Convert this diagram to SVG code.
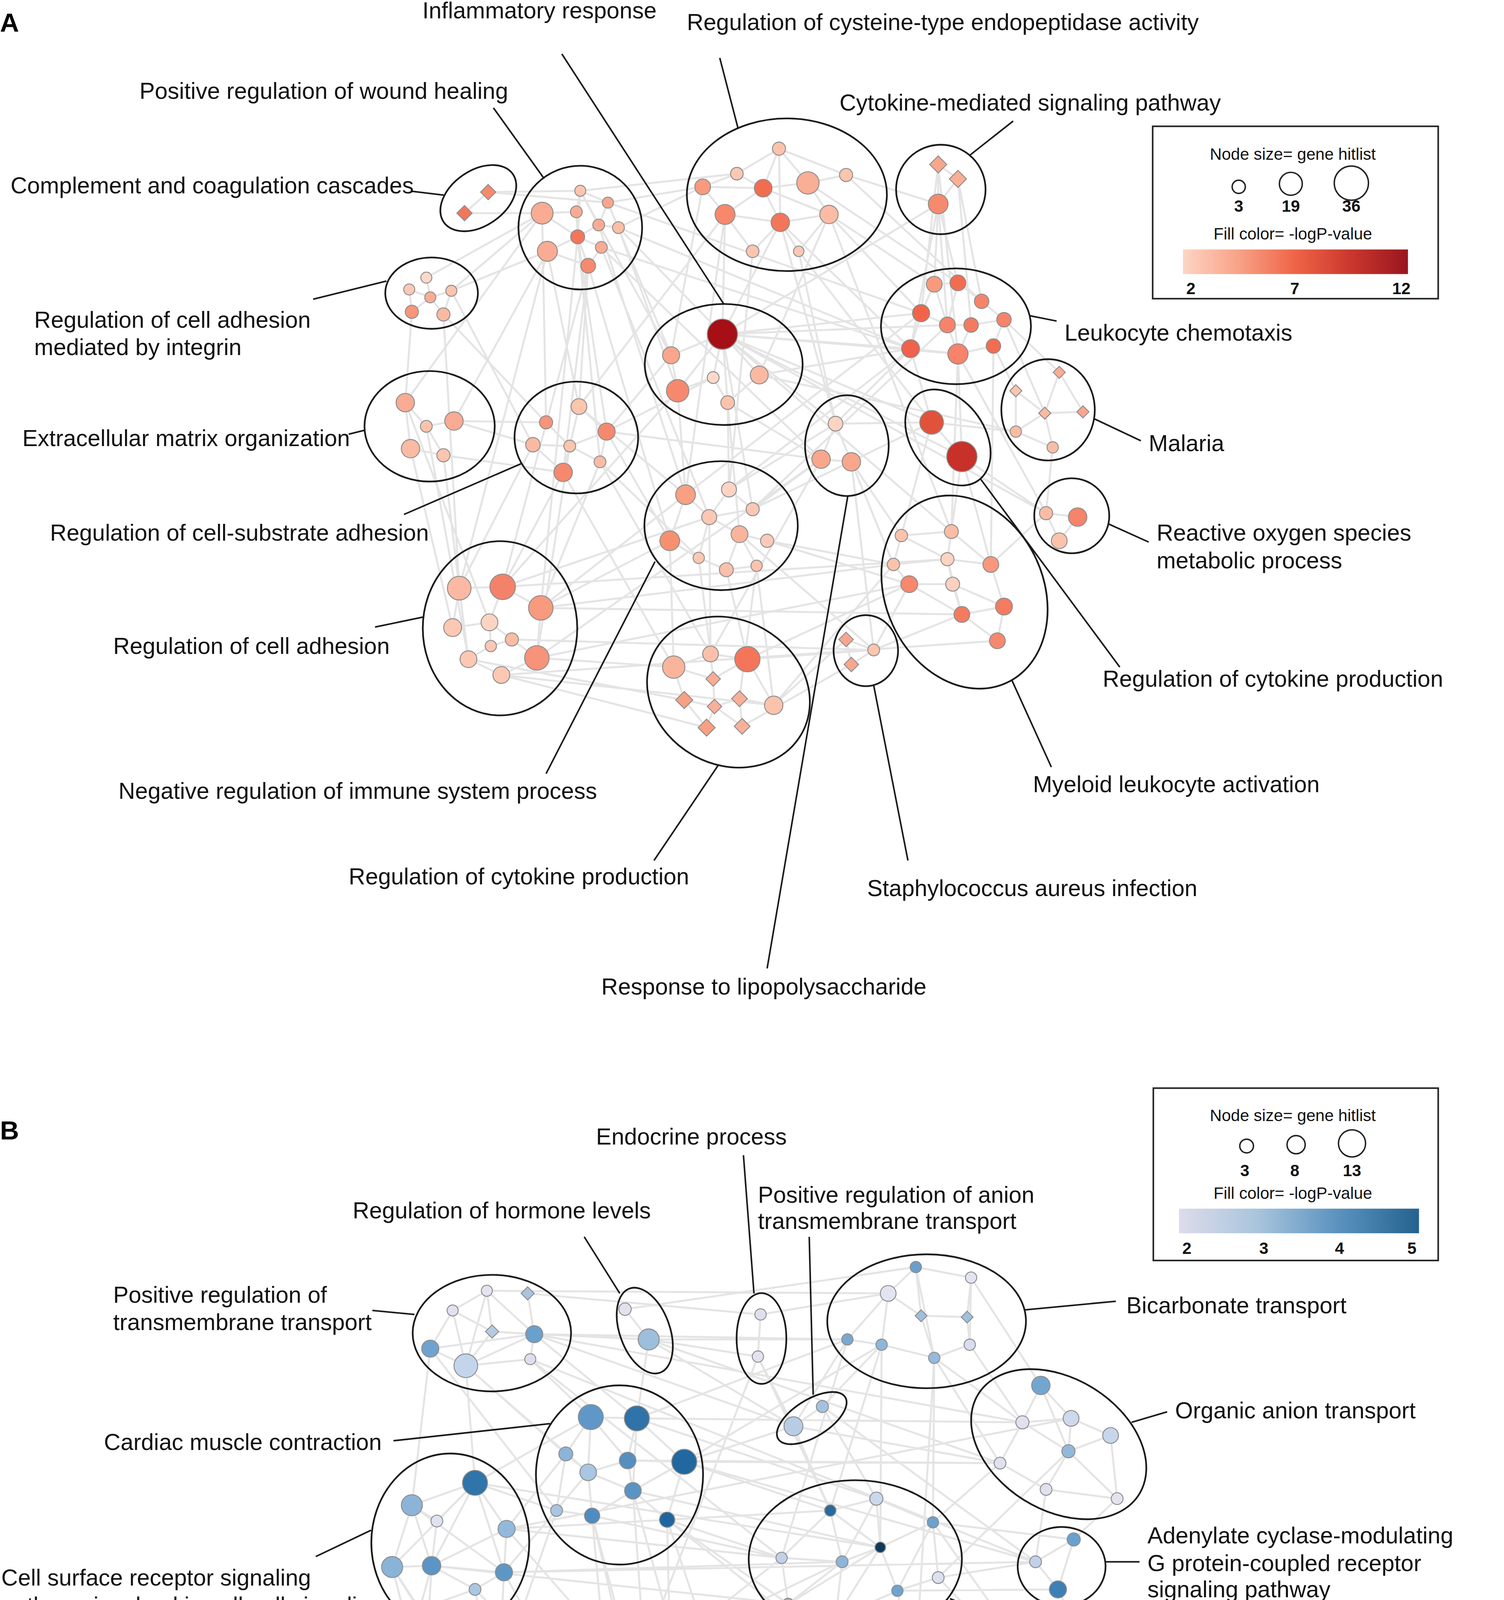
<svg xmlns="http://www.w3.org/2000/svg" width="3850" height="5279" viewBox="0 0 3850 5279">
<defs>
<style>
.e{fill:none;stroke:#1a1a1a;stroke-width:1.3}
.n{stroke:#8c8c8c;stroke-width:0.7}
.ld{fill:none;stroke:#1a1a1a;stroke-width:1.2}
.ed{fill:none;stroke:#c4c4c4;stroke-opacity:0.45;stroke-width:1.5}
.t{font-family:"Liberation Sans",Arial,sans-serif;font-size:17.5px;fill:#111}
.lg{font-family:"Liberation Sans",Arial,sans-serif;font-size:12.5px;fill:#111}
.b{font-weight:bold}
.pl{font-family:"Liberation Sans",Arial,sans-serif;font-size:20px;font-weight:bold;fill:#000}
.lc{fill:none;stroke:#222;stroke-width:1.1}
</style>
<linearGradient id="gr" x1="0" y1="0" x2="1" y2="0">
<stop offset="0" stop-color="#fdd5c4"/><stop offset="0.25" stop-color="#f8a186"/><stop offset="0.5" stop-color="#ef6447"/><stop offset="0.75" stop-color="#c9372d"/><stop offset="1" stop-color="#99161f"/>
</linearGradient>
<linearGradient id="gb" x1="0" y1="0" x2="1" y2="0">
<stop offset="0" stop-color="#dddceb"/><stop offset="0.33" stop-color="#a8c4dd"/><stop offset="0.66" stop-color="#5b93bf"/><stop offset="1" stop-color="#24628f"/>
</linearGradient>
</defs>
<rect x="0" y="0" width="3850" height="5279" fill="#ffffff"/>
<g transform="scale(3.36833)">
<g id="connectors">
<path class="ed" d="M441 145L438 161M441 145L439 180M441 145L462 154M438 161L439 180M412 162L439 180M455 171L439 180M439 180L457 188M439 180L447 202M416 191L439 180M462 154L455 171M470 173L455 171M457 188L447 202M412 162L438 161M441 145L455 171M416 191L447 202M416 191L440 309M447 202L440 309M439 180L461 328M412 162L415 321M416 191L349 447M447 202L382 446M439 180L411 462M441 145L510 270M462 154L510 270M470 173L549 254M470 173L534 142M462 154L534 142M455 171L521 376M457 188L539 393M412 162L308 306M416 191L345 320M447 202L428 359M439 180L456 351M462 154L700 238M470 173L692 265M457 188L692 265M441 145L560 132M412 162L343 221M416 191L343 221M470 173L515 297M457 188L624 349M447 202L509 411M371 146L353 162M353 162L412 162M371 146L441 145M371 146L462 154M324 211L327 226M311 220L327 226M343 221L327 226M313 237L327 226M337 239L327 226M311 220L313 237M343 221L337 239M324 211L412 162M313 237L308 306M337 239L415 321M337 239L349 447M343 221L405 338M308 306L324 324M345 320L324 324M324 324L337 346M312 341L337 346M308 306L312 341M345 320L405 338M345 320L415 321M337 346L349 447M312 341L344 477M308 306L372 473M324 324L356 501M337 346L428 359M440 309L433 339M415 321L433 339M461 328L433 339M405 338L433 339M433 339L456 351M433 339L428 359M440 309L461 328M405 338L428 359M461 328L456 351M428 359L382 446M456 351L411 462M405 338L349 447M433 339L408 500M461 328L509 411M456 351L531 424M440 309L521 376M461 328L510 270M428 359L512 507M456 351L540 497M461 328L624 349M349 447L382 446M382 446L411 462M349 447L344 477M344 477L372 473M372 473L389 486M389 486L373 491M373 491L356 501M356 501L381 513M408 500L381 513M411 462L408 500M382 446L372 473M372 473L373 491M389 486L408 500M349 447L356 501M411 462L509 411M408 500L512 507M411 462L679 429M382 446L539 393M408 500L691 444M381 513L588 536M356 501L520 532M389 486L664 494M411 462L521 376M408 500L624 349M381 513L537 553M382 446L515 297M411 462L731 467M382 446L720 425M381 513L758 487M549 254L510 270M549 254L542 287M549 254L577 285M549 254L515 297M549 254L553 306M510 270L515 297M542 287L553 306M577 285L553 306M542 287L515 297M549 254L700 238M549 254L720 247M549 254L692 265M549 254L728 269M549 254L551 163M549 254L593 169M549 254L708 321M549 254L731 347M549 254L635 322M577 285L692 265M510 270L534 142M577 285L630 163M553 306L554 372M515 297L521 376M553 306L562 406M549 254L723 404M549 254L713 155M577 285L772 328M553 306L624 349M549 254L795 390M542 287L461 328M549 254L572 387M592 113L560 132M592 113L580 143M592 113L614 139M592 113L643 133M560 132L534 142M560 132L580 143M534 142L580 143M534 142L551 163M580 143L593 169M580 143L614 139M614 139L643 133M614 139L630 163M551 163L593 169M593 169L630 163M551 163L572 191M593 169L572 191M593 169L607 191M630 163L607 191M580 143L551 163M580 143L630 163M592 113L593 169M630 163L700 238M630 163L710 216M643 133L713 155M614 139L728 215M593 169L635 322M607 191L635 322M572 191L554 372M630 163L723 404M607 191L708 321M551 163L521 376M643 133L746 229M593 169L692 265M551 163L440 309M713 125L713 155M728 136L713 155M713 125L728 136M713 155L710 216M713 155L728 215M713 125L700 238M728 136L746 229M713 155L720 247M728 136L738 247M713 125L728 269M713 155L692 265M710 216L728 215M710 216L700 238M728 215L746 229M700 238L720 247M720 247L738 247M738 247L763 243M700 238L692 265M720 247L728 269M738 247L728 269M692 265L728 269M728 269L755 263M763 243L755 263M746 229L763 243M728 215L720 247M710 216L720 247M692 265L708 321M728 269L731 347M755 263L772 297M763 243L805 283M692 265L635 322M728 269L723 404M755 263L753 429M692 265L554 372M720 247L572 387M728 269L795 390M700 238L521 376M763 243L794 314M805 283L794 314M772 297L794 314M794 314L823 313M772 297L772 328M794 314L800 340M805 283L823 313M772 328L800 340M794 314L772 328M800 340L795 390M772 328L708 321M635 322L624 349M635 322L647 351M624 349L647 351M624 349L572 387M647 351L685 407M635 322L554 372M647 351L679 429M624 349L540 497M647 351L664 494M635 322L708 321M708 321L731 347M731 347L723 404M731 347L795 390M708 321L685 407M731 347L753 429M708 321L572 387M795 390L819 393M795 390L805 411M819 393L805 411M795 390L753 429M521 376L539 393M554 372L539 393M539 393L572 387M521 376L509 411M539 393L562 406M509 411L531 424M562 406L552 433M562 406L583 411M531 424L552 433M552 433L575 430M562 406L575 430M539 393L531 424M554 372L572 387M509 411L512 507M552 433L568 501M531 424L540 497M575 430L562 531M583 411L679 429M583 411L691 444M562 406L664 494M539 393L540 497M575 430L588 536M685 407L723 404M685 407L679 429M723 404L720 425M679 429L720 425M720 425L753 429M679 429L691 444M720 425L724 444M753 429L763 461M691 444L724 444M724 444L731 467M763 461L731 467M763 461L758 487M731 467L758 487M685 407L720 425M723 404L753 429M720 425L731 467M691 444L731 467M724 444L763 461M691 444L664 494M731 467L664 494M679 429L588 536M691 444L568 501M512 507L540 497M540 497L568 501M512 507L542 516M540 497L542 516M568 501L542 516M542 516L543 537M520 532L543 537M562 531L543 537M543 537L537 553M543 537L564 552M520 532L537 553M562 531L564 552M568 501L588 536M588 536L562 531M512 507L520 532M588 536L643 486M568 501L664 494M564 552L647 505M643 486L647 505M643 486L664 494M647 505L664 494"/>
<path class="ed" d="M370 981L344 996M370 981L374 1012M370 981L354 1038M344 996L327 1025M344 996L354 1038M374 1012L406 1014M374 1012L354 1038M406 1014L403 1033M327 1025L354 1038M354 1038L403 1033M401 983L406 1014M370 981L406 1014M327 1025L406 1014M344 996L374 1012M354 1038L406 1014M354 1038L430 1105M403 1033L449 1077M406 1014L484 1078M327 1025L313 1144M354 1038L361 1127M406 1014L493 1018M403 1033L594 1184M406 1014L644 1018M370 981L675 983M401 983L578 999M406 1014L777 1081M403 1033L787 1187M354 1038L447 1119M327 1025L423 1148M406 1014L603 1084M475 995L493 1018M493 1018L576 1031M493 1018L644 1018M493 1018L484 1078M475 995L696 963M493 1018L603 1084M493 1018L760 1112M578 999L576 1031M576 1031L603 1084M576 1031L631 1148M578 999L675 983M576 1031L482 1273M603 1084L625 1069M603 1084L631 1148M625 1069L670 1022M603 1084L520 1111M625 1069L666 1139M603 1084L760 1112M625 1069L787 1187M696 963L675 983M696 963L700 1000M696 963L738 971M675 983L670 1022M675 983L700 1000M700 1000L710 1032M700 1000L735 1001M735 1001L737 1022M738 971L737 1022M644 1018L670 1022M670 1022L710 1032M737 1022L710 1032M738 971L735 1001M696 963L710 1032M675 983L644 1018M670 1022L631 1148M670 1022L669 1176M710 1032L709 1157M644 1018L594 1184M737 1022L777 1081M710 1032L760 1112M738 971L791 1053M644 1018L603 1084M670 1022L520 1111M710 1032L695 1280M791 1053L777 1081M791 1053L814 1078M791 1053L812 1103M777 1081L814 1078M777 1081L760 1112M814 1078L844 1091M814 1078L812 1103M812 1103L795 1132M844 1091L849 1139M812 1103L849 1139M760 1112L795 1132M795 1132L849 1139M777 1081L812 1103M844 1091L812 1103M777 1081L484 1078M760 1112L520 1111M814 1078L385 1162M760 1112L709 1157M795 1132L787 1187M849 1139L816 1170M812 1103L713 1199M760 1112L477 1110M777 1081L710 1032M631 1148L666 1139M631 1148L669 1176M666 1139L669 1176M709 1157L669 1176M669 1176L640 1187M669 1176L682 1209M594 1184L640 1187M640 1187L599 1219M640 1187L635 1230M682 1209L635 1230M713 1199L682 1209M709 1157L713 1199M594 1184L599 1219M599 1219L635 1230M631 1148L594 1184M666 1139L709 1157M631 1148L640 1187M669 1176L635 1230M669 1176L599 1219M709 1157L682 1209M666 1139L640 1187M631 1148L520 1111M594 1184L507 1155M669 1176L481 1133M640 1187L383 1195M599 1219L541 1257M635 1230L530 1312M682 1209L695 1280M635 1230L637 1316M713 1199L787 1187M709 1157L816 1170M682 1209L804 1208M594 1184L385 1162M669 1176L361 1127M666 1139L484 1078M599 1219L618 1372M635 1230L673 1286M713 1199L811 1301M640 1187L381 1311M599 1219L328 1190M631 1148L385 1162M816 1170L787 1187M816 1170L804 1208M787 1187L804 1208M804 1208L842 1285M787 1187L520 1111M787 1187L383 1195M449 1077L484 1078M449 1077L430 1105M449 1077L477 1110M449 1077L447 1119M484 1078L477 1110M484 1078L520 1111M430 1105L447 1119M477 1110L447 1119M477 1110L481 1133M477 1110L520 1111M520 1111L481 1133M520 1111L507 1155M447 1119L450 1152M481 1133L450 1152M481 1133L507 1155M423 1148L450 1152M430 1105L423 1148M447 1119L481 1133M484 1078L481 1133M423 1148L361 1127M430 1105L385 1162M450 1152L482 1273M507 1155L510 1287M481 1133L530 1312M450 1152L471 1242M507 1155L541 1257M423 1148L379 1276M450 1152L462 1286M507 1155L673 1286M481 1133L495 1333M449 1077L361 1127M447 1119L383 1195M507 1155L599 1219M450 1152L594 1184M484 1078L644 1018M361 1127L313 1144M361 1127L332 1156M361 1127L385 1162M361 1127L328 1190M361 1127L383 1195M313 1144L332 1156M313 1144L298 1191M313 1144L328 1190M332 1156L328 1190M385 1162L383 1195M298 1191L328 1190M328 1190L383 1195M328 1190L361 1208M383 1195L361 1208M298 1191L319 1223M328 1190L319 1223M361 1208L319 1223M361 1127L298 1191M385 1162L328 1190M313 1144L383 1195M298 1191L342 1261M328 1190L322 1293M383 1195L379 1276M361 1208L381 1311M319 1223L330 1313M383 1195L432 1284M385 1162L482 1273M361 1208L467 1313M319 1223L398 1412M298 1191L330 1313M342 1261L379 1276M342 1261L322 1293M342 1261L348 1292M379 1276L348 1292M379 1276L381 1311M322 1293L330 1313M322 1293L348 1292M348 1292L381 1311M330 1313L381 1311M330 1313L357 1330M381 1311L357 1330M342 1261L381 1311M379 1276L330 1313M322 1293L381 1311M379 1276L432 1284M381 1311L467 1313M357 1330L398 1412M330 1313L433 1436M381 1311L461 1339M357 1330L509 1427M471 1242L482 1273M471 1242L462 1286M482 1273L462 1286M482 1273L510 1287M482 1273L530 1312M432 1284L462 1286M432 1284L467 1313M462 1286L467 1313M510 1287L530 1312M510 1287L495 1333M467 1313L461 1339M467 1313L495 1333M530 1312L495 1333M541 1257L510 1287M541 1257L530 1312M432 1284L461 1339M482 1273L467 1313M471 1242L510 1287M495 1333L524 1413M461 1339L420 1403M467 1313L433 1436M530 1312L637 1316M541 1257L673 1286M510 1287L654 1346M495 1333L618 1372M461 1339L525 1443M495 1333L433 1436M482 1273L594 1184M673 1286L695 1280M673 1286L637 1316M673 1286L672 1318M695 1280L735 1303M695 1280L672 1318M695 1280L696 1325M735 1303L696 1325M735 1303L727 1332M637 1316L672 1318M637 1316L654 1346M672 1318L696 1325M672 1318L654 1346M696 1325L727 1332M696 1325L692 1361M654 1346L692 1361M727 1332L692 1361M695 1280L692 1361M673 1286L696 1325M735 1303L757 1374M727 1332L757 1374M692 1361L753 1419M692 1361L618 1372M654 1346L618 1372M637 1316L587 1410M727 1332L811 1301M692 1361L795 1413M696 1325L806 1369M811 1301L842 1285M811 1301L709 1157M757 1374L806 1369M757 1374L753 1419M757 1374L795 1413M806 1369L753 1419M806 1369L795 1413M753 1419L795 1413M618 1372L587 1410M618 1372L634 1404M618 1372L610 1442M587 1410L634 1404M587 1410L610 1442M634 1404L610 1442M587 1410L524 1413M524 1413L509 1427M524 1413L525 1443M509 1427L525 1443M398 1412L433 1436M398 1412L420 1403M420 1403L433 1436M433 1436L509 1427"/>
<g id="leaders-a">
<path class="ld" d="M427 41L550 231M547 44L561 98M375 82L413 135M770 92L737 118M312.6 145.3L337.2 148.3M238 227.4L293.7 213.6M783 240L803 244M265 330L277 327M831 318L867 335M307 391L397 352M842 398L873 412M285 476.6L321.4 469M745 363.8L851 507M497.8 426.8L415 588M546.1 581.2L497 654M769 517L799 583M664 521L690 654M644.3 377L583 736"/>
</g>
<g id="leaders-b">
<path class="ld" d="M565 878L573 983M444 940L471 983M615 940L618 1060M283 996L315 999M779 995.5L848 989M860 1081L887 1073M299 1095L418 1082M840 1187L866 1187M240 1183L282 1163M722 1215L800 1246M286 1305L307 1305M845 1305L884 1323M823 1387L866 1396M431 1330L342 1383M341 1459L387 1446M700.5 1376L718 1443M626.6 1450L657 1508M520 1468L519 1535"/>
</g>
</g>

<text class="pl" x="0" y="24">A</text>
<text class="pl" x="0" y="866">B</text>

<g id="legend-a">
<rect x="876" y="96" width="217" height="131" fill="#fff" stroke="#222" stroke-width="1.2"/>
<text class="lg" x="982.5" y="121.5" text-anchor="middle">Node size= gene hitlist</text>
<circle class="lc" cx="941.4" cy="142" r="5"/><circle class="lc" cx="981" cy="139.7" r="8.7"/><circle class="lc" cx="1027" cy="139.2" r="13"/>
<text class="lg b" x="941.4" y="161" text-anchor="middle">3</text><text class="lg b" x="981" y="161" text-anchor="middle">19</text><text class="lg b" x="1027" y="161" text-anchor="middle">36</text>
<text class="lg" x="982.5" y="182" text-anchor="middle">Fill color= -logP-value</text>
<rect x="899" y="189.6" width="171" height="18.7" fill="url(#gr)"/>
<text class="lg b" x="905" y="223.5" text-anchor="middle">2</text><text class="lg b" x="984" y="223.5" text-anchor="middle">7</text><text class="lg b" x="1065" y="223.5" text-anchor="middle">12</text>
</g>

<g id="legend-b">
<rect x="876.5" y="827" width="216.5" height="131" fill="#fff" stroke="#222" stroke-width="1.2"/>
<text class="lg" x="982.5" y="852" text-anchor="middle">Node size= gene hitlist</text>
<circle class="lc" cx="947.4" cy="871" r="5.2"/><circle class="lc" cx="985" cy="870" r="6.9"/><circle class="lc" cx="1027.5" cy="869" r="10.3"/>
<text class="lg b" x="946" y="894" text-anchor="middle">3</text><text class="lg b" x="984" y="894" text-anchor="middle">8</text><text class="lg b" x="1027.5" y="894" text-anchor="middle">13</text>
<text class="lg" x="982.5" y="911" text-anchor="middle">Fill color= -logP-value</text>
<rect x="896" y="918.6" width="182.4" height="18.7" fill="url(#gb)"/>
<text class="lg b" x="902" y="953" text-anchor="middle">2</text><text class="lg b" x="960.5" y="953" text-anchor="middle">3</text><text class="lg b" x="1018" y="953" text-anchor="middle">4</text><text class="lg b" x="1073" y="953" text-anchor="middle">5</text>
</g>

<!-- Panel A clusters -->
<g id="a-inflammatory">
<ellipse class="e" cx="550" cy="277" rx="60" ry="46"/>
<circle class="n" cx="549" cy="254" r="11.5" fill="#a50f15"/><circle class="n" cx="510" cy="270" r="6.5" fill="#f9a68c"/><circle class="n" cx="542" cy="287" r="4.5" fill="#fdd9c9"/><circle class="n" cx="577" cy="285" r="6.8" fill="#fbb9a2"/><circle class="n" cx="515" cy="297" r="8.5" fill="#f6896d"/><circle class="n" cx="553" cy="306" r="5.2" fill="#fcc3ac"/>
<text class="t" x="321" y="14">Inflammatory response</text>
</g>
<g id="a-cysteine">
<ellipse class="e" cx="598" cy="148" rx="76" ry="58"/>
<circle class="n" cx="592" cy="113" r="5" fill="#fcc3ac"/><circle class="n" cx="560" cy="132" r="4.8" fill="#fcc8b3"/><circle class="n" cx="534" cy="142" r="6" fill="#f89a7e"/><circle class="n" cx="580" cy="143" r="6.7" fill="#f26d50"/><circle class="n" cx="614" cy="139" r="8.5" fill="#f9ae96"/><circle class="n" cx="643" cy="133" r="5" fill="#fcc5ae"/><circle class="n" cx="551" cy="163" r="7.6" fill="#f7886c"/><circle class="n" cx="593" cy="169" r="7" fill="#f3765a"/><circle class="n" cx="630" cy="163" r="7" fill="#fbbba4"/><circle class="n" cx="572" cy="191" r="4.8" fill="#fcc5ae"/><circle class="n" cx="607" cy="191" r="4" fill="#fcc8b3"/>
<text class="t" x="522" y="23">Regulation of cysteine-type endopeptidase activity</text>
</g>
<g id="a-wound">
<ellipse class="e" cx="441" cy="173" rx="47" ry="47"/>
<circle class="n" cx="441" cy="145" r="4.2" fill="#fcc5ae"/><circle class="n" cx="412" cy="162" r="8.3" fill="#f9ab93"/><circle class="n" cx="462" cy="154" r="4.2" fill="#f9a68c"/><circle class="n" cx="438" cy="161" r="4.5" fill="#f9ab93"/><circle class="n" cx="455" cy="171" r="4.5" fill="#f9ab93"/><circle class="n" cx="470" cy="173" r="4.5" fill="#fcbfa8"/><circle class="n" cx="439" cy="180" r="5.3" fill="#f4765a"/><circle class="n" cx="416" cy="191" r="7.6" fill="#faab93"/><circle class="n" cx="457" cy="188" r="4.5" fill="#f9ab93"/><circle class="n" cx="447" cy="202" r="5.6" fill="#f68a6e"/>
<text class="t" x="106" y="75">Positive regulation of wound healing</text>
</g>
<g id="a-cytokine-signaling">
<ellipse class="e" cx="715" cy="144" rx="34" ry="34"/>
<polygon class="n" fill="#f8a68c" points="713,118.5 719.5,125 713,131.5 706.5,125"/><polygon class="n" fill="#f9ae96" points="728,129.5 734.5,136 728,142.5 721.5,136"/><circle class="n" cx="713" cy="155" r="7.5" fill="#f68a6e"/>
<text class="t" x="638" y="84">Cytokine-mediated signaling pathway</text>
</g>
<g id="a-complement">
<ellipse class="e" cx="363.5" cy="150.6" rx="32" ry="21" transform="rotate(-35 363.5 150.6)"/>
<polygon class="n" fill="#f68a6e" points="371,140.2 376.8,146 371,151.8 365.2,146"/><polygon class="n" fill="#f4765a" points="353,156.2 358.8,162 353,167.8 347.2,162"/>
<text class="t" x="8" y="147">Complement and coagulation cascades</text>
</g>
<g id="a-integrin">
<ellipse class="e" cx="328" cy="222.8" rx="35.2" ry="27.1"/>
<circle class="n" cx="324" cy="211" r="4.2" fill="#fdd9c9"/><circle class="n" cx="311" cy="220" r="4.2" fill="#fcc9b5"/><circle class="n" cx="343" cy="221" r="4.2" fill="#fcc5ae"/><circle class="n" cx="327" cy="226" r="4.2" fill="#f9ad95"/><circle class="n" cx="313" cy="237" r="5" fill="#f89679"/><circle class="n" cx="337" cy="239" r="5" fill="#fbb9a2"/>
<text class="t" x="26" y="249">Regulation of cell adhesion</text><text class="t" x="26" y="270">mediated by integrin</text>
</g>
<g id="a-leukocyte-chemotaxis">
<ellipse class="e" cx="726.5" cy="248" rx="57" ry="44"/>
<circle class="n" cx="710" cy="216" r="6" fill="#f89a7e"/><circle class="n" cx="728" cy="215" r="6" fill="#f26d50"/><circle class="n" cx="746" cy="229" r="5.5" fill="#f6836a"/><circle class="n" cx="700" cy="238" r="6.5" fill="#f0654a"/><circle class="n" cx="720" cy="247" r="6" fill="#f6836a"/><circle class="n" cx="738" cy="247" r="5.5" fill="#f47b60"/><circle class="n" cx="763" cy="243" r="5.5" fill="#f6836a"/><circle class="n" cx="692" cy="265" r="6.8" fill="#f06249"/><circle class="n" cx="728" cy="269" r="7.7" fill="#f6836a"/><circle class="n" cx="755" cy="263" r="5.5" fill="#f26d50"/>
<text class="t" x="809" y="259">Leukocyte chemotaxis</text>
</g>
<g id="a-ecm">
<ellipse class="e" cx="326.5" cy="324" rx="49.5" ry="42"/>
<circle class="n" cx="308" cy="306" r="7" fill="#f9ab93"/><circle class="n" cx="345" cy="320" r="7" fill="#f9ab93"/><circle class="n" cx="324" cy="324" r="4.5" fill="#fcc3ac"/><circle class="n" cx="312" cy="341" r="7" fill="#fbbaa3"/><circle class="n" cx="337" cy="346" r="5" fill="#fcc5ae"/>
<text class="t" x="17" y="339">Extracellular matrix organization</text>
</g>
<g id="a-malaria">
<ellipse class="e" cx="796.5" cy="311.5" rx="35.5" ry="38.5"/>
<polygon class="n" fill="#f9ad95" points="805,278.4 809.6,283 805,287.6 800.4,283"/><polygon class="n" fill="#fcc5ae" points="772,292.4 776.6,297 772,301.6 767.4,297"/><polygon class="n" fill="#fbb9a2" points="794,309.4 798.6,314 794,318.6 789.4,314"/><polygon class="n" fill="#f9a68c" points="823,308.4 827.6,313 823,317.6 818.4,313"/>
<circle class="n" cx="772" cy="328" r="4.3" fill="#fbbca5"/><circle class="n" cx="800" cy="340" r="4.3" fill="#fbbca5"/>
<text class="t" x="873" y="343">Malaria</text>
</g>
<g id="a-cell-substrate">
<ellipse class="e" cx="438" cy="332.5" rx="47" ry="42.5"/>
<circle class="n" cx="440" cy="309" r="6" fill="#fcc5ae"/><circle class="n" cx="415" cy="321" r="5" fill="#f7947a"/><circle class="n" cx="461" cy="328" r="6.5" fill="#f6896d"/><circle class="n" cx="405" cy="338" r="5.5" fill="#fbb9a2"/><circle class="n" cx="433" cy="339" r="4.5" fill="#fcc5ae"/><circle class="n" cx="456" cy="351" r="4.5" fill="#fbbca5"/><circle class="n" cx="428" cy="359" r="7" fill="#f6896d"/>
<text class="t" x="38" y="411">Regulation of cell-substrate adhesion</text>
</g>
<g id="a-lps">
<ellipse class="e" cx="643.6" cy="338.7" rx="31.8" ry="38.3"/>
<circle class="n" cx="635" cy="322" r="5.6" fill="#fdd4c4"/><circle class="n" cx="624" cy="349" r="7" fill="#f9a68c"/><circle class="n" cx="647" cy="351" r="7" fill="#f9a68c"/>
<text class="t" x="457" y="756">Response to lipopolysaccharide</text>
</g>
<g id="a-cytokine-production-right">
<ellipse class="e" cx="720.4" cy="332.5" rx="40" ry="28" transform="rotate(55 720.4 332.5)"/>
<circle class="n" cx="708" cy="321" r="9" fill="#e0523a"/><circle class="n" cx="731" cy="347" r="11.5" fill="#c8302a"/>
<text class="t" x="838" y="522">Regulation of cytokine production</text>
</g>
<g id="a-ros">
<ellipse class="e" cx="814.5" cy="392" rx="28.5" ry="28.5"/>
<circle class="n" cx="795" cy="390" r="5" fill="#fbbca5"/><circle class="n" cx="819" cy="393" r="7" fill="#f6836a"/><circle class="n" cx="805" cy="411" r="6" fill="#fbc3ad"/>
<text class="t" x="879" y="411">Reactive oxygen species</text><text class="t" x="879" y="432">metabolic process</text>
</g>
<g id="a-negative-immune">
<ellipse class="e" cx="548" cy="399.5" rx="58.3" ry="49"/>
<circle class="n" cx="521" cy="376" r="7.5" fill="#f8a083"/><circle class="n" cx="554" cy="372" r="5.7" fill="#fdd4c4"/><circle class="n" cx="539" cy="393" r="5.7" fill="#fcc8b3"/><circle class="n" cx="572" cy="387" r="5" fill="#fcc8b3"/><circle class="n" cx="509" cy="411" r="7.5" fill="#f7906f"/><circle class="n" cx="562" cy="406" r="6.4" fill="#fab49c"/><circle class="n" cx="583" cy="411" r="5" fill="#fccbb8"/><circle class="n" cx="531" cy="424" r="4.3" fill="#fcc8b3"/><circle class="n" cx="552" cy="433" r="5.3" fill="#fbc0a9"/><circle class="n" cx="575" cy="430" r="4.3" fill="#fcc3ac"/>
<text class="t" x="90" y="607">Negative regulation of immune system process</text>
</g>
<g id="a-myeloid">
<ellipse class="e" cx="733" cy="450" rx="76" ry="60" transform="rotate(65 733 450)"/>
<circle class="n" cx="685" cy="407" r="4.7" fill="#fcc3ac"/><circle class="n" cx="723" cy="404" r="5.3" fill="#fbbca5"/><circle class="n" cx="679" cy="429" r="4.7" fill="#fcc3ac"/><circle class="n" cx="720" cy="425" r="5" fill="#fdd4c4"/><circle class="n" cx="753" cy="429" r="6" fill="#f8977b"/><circle class="n" cx="691" cy="444" r="6.4" fill="#f7886c"/><circle class="n" cx="724" cy="444" r="5.3" fill="#fdd0bf"/><circle class="n" cx="763" cy="461" r="6.4" fill="#f47b60"/><circle class="n" cx="731" cy="467" r="6" fill="#f47b60"/><circle class="n" cx="758" cy="487" r="6" fill="#f6896d"/>
<text class="t" x="785" y="602">Myeloid leukocyte activation</text>
</g>
<g id="a-cell-adhesion">
<ellipse class="e" cx="380" cy="477.5" rx="58.7" ry="66.2"/>
<circle class="n" cx="349" cy="447" r="9" fill="#fbb9a3"/><circle class="n" cx="382" cy="446" r="9.7" fill="#f4826a"/><circle class="n" cx="411" cy="462" r="9.3" fill="#f89a7e"/><circle class="n" cx="344" cy="477" r="6.8" fill="#fcc8b3"/><circle class="n" cx="372" cy="473" r="6.4" fill="#fdd4c4"/><circle class="n" cx="389" cy="486" r="5" fill="#fbbca5"/><circle class="n" cx="373" cy="491" r="4.3" fill="#fcc8b3"/><circle class="n" cx="408" cy="500" r="9.3" fill="#f7937a"/><circle class="n" cx="356" cy="501" r="6.4" fill="#fcc8b3"/><circle class="n" cx="381" cy="513" r="6.4" fill="#fcc8b3"/>
<text class="t" x="86" y="497">Regulation of cell adhesion</text>
</g>
<g id="a-cytokine-production-bottom">
<ellipse class="e" cx="553.6" cy="526" rx="64" ry="55" transform="rotate(30 553.6 526)"/>
<circle class="n" cx="512" cy="507" r="8.5" fill="#fab49c"/><circle class="n" cx="540" cy="497" r="6" fill="#fbc0a9"/><circle class="n" cx="568" cy="501" r="9.6" fill="#f4765a"/><circle class="n" cx="588" cy="536" r="7" fill="#fcc3ac"/>
<polygon class="n" fill="#f9ab93" points="542,510.5 547.5,516 542,521.5 536.5,516"/><polygon class="n" fill="#f8a083" points="520,525.5 526.5,532 520,538.5 513.5,532"/><polygon class="n" fill="#f9b09a" points="562,525 568,531 562,537 556,531"/><polygon class="n" fill="#f9b09a" points="543,531.5 548.5,537 543,542.5 537.5,537"/><polygon class="n" fill="#f8a083" points="537,546.5 543.5,553 537,559.5 530.5,553"/><polygon class="n" fill="#f9b09a" points="564,546 570,552 564,558 558,552"/>
<text class="t" x="265" y="672">Regulation of cytokine production</text>
</g>
<g id="a-staphylococcus">
<ellipse class="e" cx="658" cy="494.5" rx="24.5" ry="27"/>
<polygon class="n" fill="#f9a68c" points="643,480.5 648.5,486 643,491.5 637.5,486"/><polygon class="n" fill="#f9a68c" points="647,499.5 652.5,505 647,510.5 641.5,505"/><circle class="n" cx="664" cy="494" r="4.5" fill="#fcc5ae"/>
<text class="t" x="659" y="681">Staphylococcus aureus infection</text>
</g>

<!-- Panel B clusters -->
<g id="b-transmembrane">
<ellipse class="e" cx="373.8" cy="1013.2" rx="60.2" ry="44.3"/>
<circle class="n" cx="370" cy="981" r="4.2" fill="#e4e4f0"/><polygon class="n" fill="#a8c4de" points="401,978 406,983 401,988 396,983"/><circle class="n" cx="344" cy="996" r="4.2" fill="#e0e0ef"/><polygon class="n" fill="#b4cce3" points="374,1007 379,1012 374,1017 369,1012"/><circle class="n" cx="406" cy="1014" r="6.5" fill="#6aa0cc"/><circle class="n" cx="327" cy="1025" r="6.5" fill="#6fa3cf"/><circle class="n" cx="354" cy="1038" r="9" fill="#c3d5ea"/><circle class="n" cx="403" cy="1033" r="4.2" fill="#dedfee"/>
<text class="t" x="86" y="990">Positive regulation of</text><text class="t" x="86" y="1011">transmembrane transport</text>
</g>
<g id="b-hormone">
<ellipse class="e" cx="490" cy="1011.3" rx="34" ry="19" transform="rotate(70 490 1011.3)"/>
<circle class="n" cx="475" cy="995" r="4.7" fill="#e2e2ef"/><circle class="n" cx="493" cy="1018" r="8" fill="#9dbedc"/>
<text class="t" x="268" y="926">Regulation of hormone levels</text>
</g>
<g id="b-endocrine">
<ellipse class="e" cx="578.7" cy="1017.3" rx="18.9" ry="34.5"/>
<circle class="n" cx="578" cy="999" r="4.3" fill="#dfe0ef"/><circle class="n" cx="576" cy="1031" r="4.3" fill="#e3e3f0"/>
<text class="t" x="453" y="870">Endocrine process</text>
</g>
<g id="b-anion-transmembrane">
<ellipse class="e" cx="616.9" cy="1077.8" rx="30" ry="14" transform="rotate(-32 616.9 1077.8)"/>
<circle class="n" cx="603" cy="1084" r="7.2" fill="#b8cde5"/><circle class="n" cx="625" cy="1069" r="4.6" fill="#a3c2df"/>
<text class="t" x="576" y="914">Positive regulation of anion</text><text class="t" x="576" y="934">transmembrane transport</text>
</g>
<g id="b-bicarbonate">
<ellipse class="e" cx="704.2" cy="1004.2" rx="75.5" ry="50.9"/>
<circle class="n" cx="696" cy="963" r="4.3" fill="#6b9fcb"/><circle class="n" cx="675" cy="983" r="6" fill="#e3e4f1"/><circle class="n" cx="738" cy="971" r="4.3" fill="#e3e4f1"/><polygon class="n" fill="#9ec0de" points="700,995.5 704.5,1000 700,1004.5 695.5,1000"/><polygon class="n" fill="#9ec0de" points="735,996.5 739.5,1001 735,1005.5 730.5,1001"/><circle class="n" cx="644" cy="1018" r="4.3" fill="#79a8d0"/><circle class="n" cx="670" cy="1022" r="4.3" fill="#8fb6da"/><circle class="n" cx="737" cy="1022" r="4.3" fill="#d8ddef"/><circle class="n" cx="710" cy="1032" r="4.3" fill="#95bade"/>
<text class="t" x="856" y="998">Bicarbonate transport</text>
</g>
<g id="b-organic-anion">
<ellipse class="e" cx="804.6" cy="1097.6" rx="72" ry="50" transform="rotate(32 804.6 1097.6)"/>
<circle class="n" cx="791" cy="1053" r="7" fill="#72a6d1"/><circle class="n" cx="777" cy="1081" r="5" fill="#dfe1ef"/><circle class="n" cx="814" cy="1078" r="6" fill="#cdd9ec"/><circle class="n" cx="844" cy="1091" r="6" fill="#c7d6ea"/><circle class="n" cx="812" cy="1103" r="5" fill="#94b8da"/><circle class="n" cx="760" cy="1112" r="4.5" fill="#e0e1ef"/><circle class="n" cx="795" cy="1132" r="4.5" fill="#dfe1ef"/><circle class="n" cx="849" cy="1139" r="4.5" fill="#e3e3f0"/>
<text class="t" x="893" y="1078">Organic anion transport</text>
</g>
<g id="b-cardiac">
<ellipse class="e" cx="470.8" cy="1121" rx="63.5" ry="68.1"/>
<circle class="n" cx="449" cy="1077" r="9.5" fill="#5f98c8"/><circle class="n" cx="484" cy="1078" r="9.5" fill="#2f73a8"/><circle class="n" cx="430" cy="1105" r="5.3" fill="#8cb4d9"/><circle class="n" cx="477" cy="1110" r="6.3" fill="#558fc0"/><circle class="n" cx="520" cy="1111" r="9.5" fill="#2168a0"/><circle class="n" cx="447" cy="1119" r="6.3" fill="#a9c6e3"/><circle class="n" cx="481" cy="1133" r="6.3" fill="#5a94c4"/><circle class="n" cx="423" cy="1148" r="4.5" fill="#a8c5e2"/><circle class="n" cx="450" cy="1152" r="5.8" fill="#4f8cc0"/><circle class="n" cx="507" cy="1155" r="5.8" fill="#1f66a0"/>
<text class="t" x="79" y="1102">Cardiac muscle contraction</text>
</g>
<g id="b-glucocorticoid">
<ellipse class="e" cx="650" cy="1185" rx="81" ry="60"/>
<circle class="n" cx="631" cy="1148" r="4.3" fill="#2a6a9e"/><circle class="n" cx="666" cy="1139" r="5" fill="#c9d8eb"/><circle class="n" cx="709" cy="1157" r="4.3" fill="#6ca2cd"/><circle class="n" cx="669" cy="1176" r="4" fill="#0d3a5c"/><circle class="n" cx="594" cy="1184" r="4.3" fill="#bfd1e8"/><circle class="n" cx="640" cy="1187" r="4.5" fill="#8db5d9"/><circle class="n" cx="713" cy="1199" r="4.5" fill="#dce1ef"/><circle class="n" cx="682" cy="1209" r="4.3" fill="#6ea4cf"/><circle class="n" cx="599" cy="1219" r="4.3" fill="#8eb6d9"/><circle class="n" cx="635" cy="1230" r="4" fill="#7aabd3"/>
<text class="t" x="808" y="1258">Cellular response to glucocorticoid stimulus</text>
</g>
<g id="b-adenylate">
<ellipse class="e" cx="806.8" cy="1190.5" rx="33.4" ry="30"/>
<circle class="n" cx="816" cy="1170" r="5" fill="#6aa0cc"/><circle class="n" cx="787" cy="1187" r="4.5" fill="#c0d2e9"/><circle class="n" cx="804" cy="1208" r="6.5" fill="#3c80b6"/>
<text class="t" x="872" y="1173">Adenylate cyclase-modulating</text><text class="t" x="872" y="1194">G protein-coupled receptor</text><text class="t" x="872" y="1214">signaling pathway</text>
</g>
<g id="b-cell-surface">
<ellipse class="e" cx="342.2" cy="1172.5" rx="60" ry="67.8"/>
<circle class="n" cx="361" cy="1127" r="9.5" fill="#2f75aa"/><circle class="n" cx="313" cy="1144" r="8" fill="#8cb4d9"/><circle class="n" cx="332" cy="1156" r="4.5" fill="#dfe2f0"/><circle class="n" cx="385" cy="1162" r="6.5" fill="#92b9dc"/><circle class="n" cx="298" cy="1191" r="8" fill="#8ab3d8"/><circle class="n" cx="328" cy="1190" r="7" fill="#5b95c5"/><circle class="n" cx="383" cy="1195" r="6.5" fill="#5d97c6"/><circle class="n" cx="361" cy="1208" r="4.5" fill="#a9c7e3"/><circle class="n" cx="319" cy="1223" r="4.5" fill="#e0e2f0"/>
<text class="t" x="1" y="1205">Cell surface receptor signaling</text><text class="t" x="1" y="1226">pathway involved in cell-cell signaling</text>
</g>
<g id="b-nervous">
<ellipse class="e" cx="354.4" cy="1297.2" rx="47.2" ry="47.2"/>
<circle class="n" cx="342" cy="1261" r="7" fill="#8db5d9"/><circle class="n" cx="379" cy="1276" r="9" fill="#7fadd5"/><circle class="n" cx="322" cy="1293" r="7" fill="#75a7d2"/><circle class="n" cx="348" cy="1292" r="4.5" fill="#e0e2f0"/><circle class="n" cx="330" cy="1313" r="8.5" fill="#4f8cc0"/><circle class="n" cx="381" cy="1311" r="9.3" fill="#2f74a9"/><circle class="n" cx="357" cy="1330" r="5.7" fill="#b7cde6"/>
<text class="t" x="184.5" y="1310" text-anchor="middle">Regulation of nervous</text><text class="t" x="184.5" y="1330" text-anchor="middle">system development</text>
</g>
<g id="b-striated">
<ellipse class="e" cx="492.5" cy="1291" rx="76" ry="63.6"/>
<circle class="n" cx="471" cy="1242" r="4.5" fill="#d8ddef"/><circle class="n" cx="541" cy="1257" r="6.5" fill="#b3cbe5"/><circle class="n" cx="482" cy="1273" r="7.5" fill="#8bb4d9"/><circle class="n" cx="432" cy="1284" r="7.5" fill="#d5dcee"/><circle class="n" cx="462" cy="1286" r="5" fill="#e4e4f1"/><circle class="n" cx="510" cy="1287" r="8.7" fill="#d5dcee"/><circle class="n" cx="467" cy="1313" r="5" fill="#e3e3f0"/><circle class="n" cx="530" cy="1312" r="7.5" fill="#7eacd4"/><circle class="n" cx="495" cy="1333" r="7" fill="#a7c5e2"/><circle class="n" cx="461" cy="1339" r="4.5" fill="#e3e3f0"/>
<text class="t" x="83" y="1406">Striated muscle tissue development</text>
</g>
<g id="b-morphogenesis">
<ellipse class="e" cx="690.1" cy="1321.7" rx="72.3" ry="54.1"/>
<circle class="n" cx="673" cy="1286" r="6.5" fill="#c5d6eb"/><circle class="n" cx="695" cy="1280" r="4.5" fill="#78aad3"/><circle class="n" cx="735" cy="1303" r="4.5" fill="#e0e1f0"/><circle class="n" cx="637" cy="1316" r="7.5" fill="#e5e5f1"/><circle class="n" cx="672" cy="1318" r="4.5" fill="#e5e5f1"/><circle class="n" cx="696" cy="1325" r="4.5" fill="#a3c2df"/><circle class="n" cx="727" cy="1332" r="7.5" fill="#e4e4f1"/><circle class="n" cx="654" cy="1346" r="7.5" fill="#e3e3f0"/><circle class="n" cx="692" cy="1361" r="5.5" fill="#cfdbee"/>
<text class="t" x="690" y="1462">Morphogenesis of an epithelial fold</text>
</g>
<g id="b-chemokine">
<ellipse class="e" cx="829.7" cy="1293.8" rx="32" ry="13" transform="rotate(-30 829.7 1293.8)"/>
<circle class="n" cx="811" cy="1301" r="4.5" fill="#e3e3f0"/><circle class="n" cx="842" cy="1285" r="4.5" fill="#cdd8ec"/>
<text class="t" x="879" y="1344">Chemokine production</text>
</g>
<g id="b-axon">
<ellipse class="e" cx="775" cy="1392.5" rx="48" ry="44.3"/>
<circle class="n" cx="757" cy="1374" r="4.5" fill="#8fb5d9"/><circle class="n" cx="806" cy="1369" r="4.5" fill="#c1d2e9"/><circle class="n" cx="753" cy="1419" r="4.5" fill="#88b2d8"/><circle class="n" cx="795" cy="1413" r="4.5" fill="#78aad3"/>
<text class="t" x="879" y="1409">Axon regeneration</text>
</g>
<g id="b-phenol">
<ellipse class="e" cx="612.2" cy="1405.6" rx="35.2" ry="50.3" transform="rotate(8 612.2 1405.6)"/>
<circle class="n" cx="618" cy="1372" r="5" fill="#e5e5f1"/><circle class="n" cx="587" cy="1410" r="4.5" fill="#dcdfef"/><circle class="n" cx="634" cy="1404" r="4.5" fill="#e3e3f0"/><circle class="n" cx="610" cy="1442" r="4.5" fill="#d3dbee"/>
<text class="t" x="578" y="1529">Phenol-containing compound biosynthetic process</text>
</g>
<g id="b-energy">
<ellipse class="e" cx="522.5" cy="1431.5" rx="38" ry="23" transform="rotate(70 522.5 1431.5)"/>
<circle class="n" cx="524" cy="1413" r="5" fill="#78aad3"/><circle class="n" cx="509" cy="1427" r="4" fill="#c8d6eb"/><circle class="n" cx="525" cy="1443" r="7" fill="#c0d2e9"/>
<text class="t" x="184" y="1562">Energy derivation by oxidation of organic compounds</text>
</g>
<g id="b-reproductive">
<ellipse class="e" cx="426" cy="1422" rx="40" ry="34"/>
<circle class="n" cx="398" cy="1412" r="7.5" fill="#8db5d9"/><circle class="n" cx="420" cy="1403" r="4" fill="#dfe1ef"/><circle class="n" cx="433" cy="1436" r="7.5" fill="#6fa3cf"/>
<text class="t" x="126" y="1479">Reproductive structure development</text>
</g>
</g>
</svg>
